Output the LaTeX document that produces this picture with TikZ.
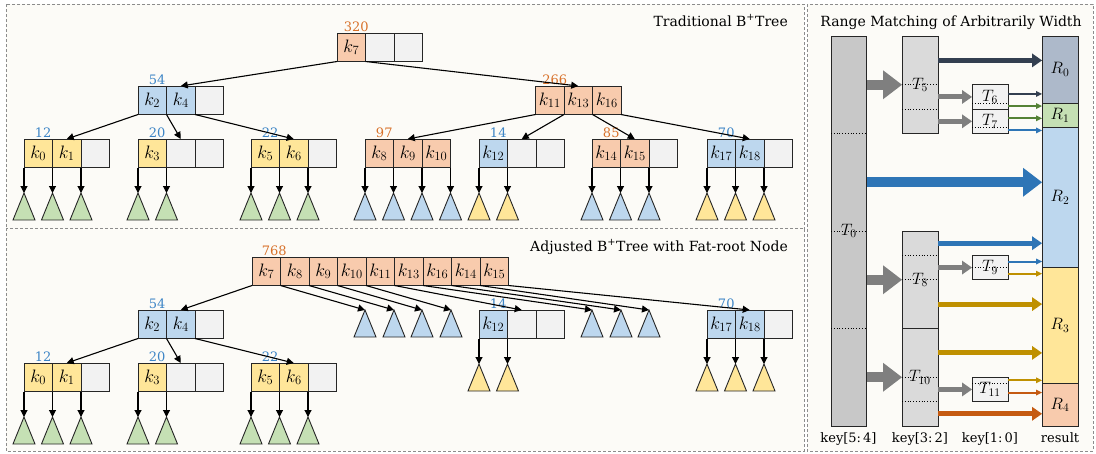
\RequirePackage{fix-cm}
\documentclass[tikz,border=0pt]{standalone}
\usepackage{fontspec}
\setmainfont{DejaVu Serif}
\usetikzlibrary{shapes.geometric, arrows.meta, positioning}

\definecolor{orgfill}{RGB}{248,203,173}
\definecolor{blufill}{RGB}{189,215,238}
\definecolor{yelfill}{RGB}{255,230,153}
\definecolor{gryfill}{RGB}{242,242,242}
\definecolor{grnfill}{RGB}{197,224,180}
\definecolor{orgtext}{RGB}{216,113,42}
\definecolor{blutext}{RGB}{61,133,198}
\definecolor{panelbg}{RGB}{252,251,247}
\definecolor{colzero}{RGB}{200,200,200}
\definecolor{colmid}{RGB}{218,218,218}
\definecolor{resslate}{RGB}{173,185,202}
\definecolor{slate}{RGB}{51,63,80}
\definecolor{bluarr}{RGB}{46,117,182}
\definecolor{goldarr}{RGB}{191,144,0}
\definecolor{grnarr}{RGB}{84,130,53}
\definecolor{orgarr}{RGB}{197,90,17}
\definecolor{grayarr}{RGB}{127,127,127}

\tikzstyle{arrow} = [line width=1.1pt, -{Triangle[length=7pt,width=7pt]}]
\tikzstyle{cell} = [rectangle, draw=black!85, line width=0.9pt, minimum width=28.5pt, minimum height=28.5pt, inner sep=0pt, outer sep=0pt, font=\fontsize{18}{20}\selectfont]
\tikzstyle{org} = [fill=orgfill]
\tikzstyle{blu} = [fill=blufill]
\tikzstyle{yel} = [fill=yelfill]
\tikzstyle{gry} = [fill=gryfill]
\tikzstyle{numo} = [text=orgtext, anchor=south, inner sep=1pt, font=\fontsize{13}{15}\selectfont]
\tikzstyle{numb} = [text=blutext, anchor=south, inner sep=1pt, font=\fontsize{13}{15}\selectfont]
\tikzstyle{tri} = [isosceles triangle, isosceles triangle stretches, shape border rotate=90, minimum width=22pt, minimum height=27pt, inner sep=0pt, outer sep=0pt, draw=black!85, line width=0.9pt, anchor=apex]
\tikzstyle{panel} = [draw=black!45, fill=panelbg, line width=0.8pt, dash pattern=on 3pt off 2pt]
\tikzstyle{paneltitle} = [inner sep=0pt, font=\fontsize{14}{17}\selectfont]
\tikzstyle{tbox} = [rectangle, draw=black!85, line width=0.9pt, minimum width=36pt, inner sep=0pt, outer sep=0pt, anchor=north west]
\tikzstyle{tlbl} = [inner sep=0pt, font=\fontsize{16.5}{18}\selectfont]
\tikzstyle{keylbl} = [anchor=base, inner sep=0pt, font=\fontsize{13}{15}\selectfont]
\tikzstyle{dotline} = [dotted, line width=0.8pt]
\tikzstyle{bigarr} = [line width=10pt, -{Triangle[length=19pt,width=29pt,line width=0pt]}]
\tikzstyle{midarr} = [line width=5pt, -{Triangle[length=10pt,width=14pt,line width=0pt]}]
\tikzstyle{thinarr} = [line width=2pt, -{Triangle[length=6pt,width=6pt,line width=0pt]}]

\begin{document}
\begin{tikzpicture}[x=1pt, y=-1pt]
\useasboundingbox (0,0) rectangle (1096,453);

% Panels
\draw [panel] (6,4) rectangle (804,228);
\draw [panel] (6,228) rectangle (804,451);
\draw [panel] (807,4) rectangle (1093,451);

\node (title1) [paneltitle, anchor=base east] at (788,26) {Traditional B\textsuperscript{+}Tree};
\node (title2) [paneltitle, anchor=base east] at (788,251) {Adjusted B\textsuperscript{+}Tree with Fat-root Node};
\node (title3) [paneltitle, anchor=base] at (951,26) {Range Matching of Arbitrarily Width};

% Traditional B+Tree
\node (T320a) [cell, org, anchor=north west] at (337,33) {$k_7$};
\node (T320b) [cell, gry, right=0pt of T320a] {};
\node (T320c) [cell, gry, right=0pt of T320b] {};
\node (T320n) [numo] at ([xshift=5pt]T320a.north) {320};

\node (T54a) [cell, blu, anchor=north west] at (138,86) {$k_2$};
\node (T54b) [cell, blu, right=0pt of T54a] {$k_4$};
\node (T54c) [cell, gry, right=0pt of T54b] {};
\node (T54n) [numb] at ([xshift=5pt]T54a.north) {54};

\node (T266a) [cell, org, anchor=north west] at (535.5,86) {$k_{11}$};
\node (T266b) [cell, org, right=0pt of T266a] {$k_{13}$};
\node (T266c) [cell, org, right=0pt of T266b] {$k_{16}$};
\node (T266n) [numo] at ([xshift=5pt]T266a.north) {266};

\node (T12a) [cell, yel, anchor=north west] at (24,139) {$k_0$};
\node (T12b) [cell, yel, right=0pt of T12a] {$k_1$};
\node (T12c) [cell, gry, right=0pt of T12b] {};
\node (T12n) [numb] at ([xshift=5pt]T12a.north) {12};

\node (T20a) [cell, yel, anchor=north west] at (138,139) {$k_3$};
\node (T20b) [cell, gry, right=0pt of T20a] {};
\node (T20c) [cell, gry, right=0pt of T20b] {};
\node (T20n) [numb] at ([xshift=5pt]T20a.north) {20};

\node (T22a) [cell, yel, anchor=north west] at (251,139) {$k_5$};
\node (T22b) [cell, yel, right=0pt of T22a] {$k_6$};
\node (T22c) [cell, gry, right=0pt of T22b] {};
\node (T22n) [numb] at ([xshift=5pt]T22a.north) {22};

\node (T97a) [cell, org, anchor=north west] at (365,139) {$k_8$};
\node (T97b) [cell, org, right=0pt of T97a] {$k_9$};
\node (T97c) [cell, org, right=0pt of T97b] {$k_{10}$};
\node (T97n) [numo] at ([xshift=5pt]T97a.north) {97};

\node (T14a) [cell, blu, anchor=north west] at (479,139) {$k_{12}$};
\node (T14b) [cell, gry, right=0pt of T14a] {};
\node (T14c) [cell, gry, right=0pt of T14b] {};
\node (T14n) [numb] at ([xshift=5pt]T14a.north) {14};

\node (T85a) [cell, org, anchor=north west] at (592,139) {$k_{14}$};
\node (T85b) [cell, org, right=0pt of T85a] {$k_{15}$};
\node (T85c) [cell, gry, right=0pt of T85b] {};
\node (T85n) [numo] at ([xshift=5pt]T85a.north) {85};

\node (T70a) [cell, blu, anchor=north west] at (707,139) {$k_{17}$};
\node (T70b) [cell, blu, right=0pt of T70a] {$k_{18}$};
\node (T70c) [cell, gry, right=0pt of T70b] {};
\node (T70n) [numb] at ([xshift=5pt]T70a.north) {70};

\draw [arrow] (T320a.south west) -- (T54b.north);
\draw [arrow] (T320a.south east) -- (T266b.north);
\draw [arrow] (T54a.south west) -- (T12b.north);
\draw [arrow] (T54a.south east) -- (T20b.north);
\draw [arrow] (T54b.south east) -- (T22b.north);
\draw [arrow] (T266a.south west) -- (T97b.north);
\draw [arrow] (T266a.south east) -- (T14b.north);
\draw [arrow] (T266b.south east) -- (T85b.north);
\draw [arrow] (T266c.south east) -- (T70b.north);

% leaves of the traditional tree
\foreach \p/\t/\c in {T12a.south west/ta1/grnfill, T12a.south east/ta2/grnfill, T12b.south east/ta3/grnfill,
  T20a.south west/ta4/grnfill, T20a.south east/ta5/grnfill,
  T22a.south west/ta6/grnfill, T22a.south east/ta7/grnfill, T22b.south east/ta8/grnfill,
  T97a.south west/ta9/blufill, T97a.south east/ta10/blufill, T97b.south east/ta11/blufill, T97c.south east/ta12/blufill,
  T14a.south west/ta13/yelfill, T14a.south east/ta14/yelfill,
  T85a.south west/ta15/blufill, T85a.south east/ta16/blufill, T85b.south east/ta17/blufill,
  T70a.south west/ta18/yelfill, T70a.south east/ta19/yelfill, T70b.south east/ta20/yelfill} {
  \node (\t) [tri, fill=\c] at (\p |- 0,193) {};
  \draw [arrow] (\p) -- (\t.apex);
}

% Adjusted B+Tree with fat root
\node (F1) [cell, org, anchor=north west] at (252,257) {$k_7$};
\node (F2) [cell, org, right=0pt of F1] {$k_8$};
\node (F3) [cell, org, right=0pt of F2] {$k_9$};
\node (F4) [cell, org, right=0pt of F3] {$k_{10}$};
\node (F5) [cell, org, right=0pt of F4] {$k_{11}$};
\node (F6) [cell, org, right=0pt of F5] {$k_{13}$};
\node (F7) [cell, org, right=0pt of F6] {$k_{16}$};
\node (F8) [cell, org, right=0pt of F7] {$k_{14}$};
\node (F9) [cell, org, right=0pt of F8] {$k_{15}$};
\node (F768n) [numo] at ([xshift=8pt]F1.north) {768};

\node (B54a) [cell, blu, anchor=north west] at (138,310) {$k_2$};
\node (B54b) [cell, blu, right=0pt of B54a] {$k_4$};
\node (B54c) [cell, gry, right=0pt of B54b] {};
\node (B54n) [numb] at ([xshift=5pt]B54a.north) {54};

\node (B14a) [cell, blu, anchor=north west] at (479,310) {$k_{12}$};
\node (B14b) [cell, gry, right=0pt of B14a] {};
\node (B14c) [cell, gry, right=0pt of B14b] {};
\node (B14n) [numb] at ([xshift=5pt]B14a.north) {14};

\node (B70a) [cell, blu, anchor=north west] at (707,310) {$k_{17}$};
\node (B70b) [cell, blu, right=0pt of B70a] {$k_{18}$};
\node (B70c) [cell, gry, right=0pt of B70b] {};
\node (B70n) [numb] at ([xshift=5pt]B70a.north) {70};

\node (B12a) [cell, yel, anchor=north west] at (24,363) {$k_0$};
\node (B12b) [cell, yel, right=0pt of B12a] {$k_1$};
\node (B12c) [cell, gry, right=0pt of B12b] {};
\node (B12n) [numb] at ([xshift=5pt]B12a.north) {12};

\node (B20a) [cell, yel, anchor=north west] at (138,363) {$k_3$};
\node (B20b) [cell, gry, right=0pt of B20a] {};
\node (B20c) [cell, gry, right=0pt of B20b] {};
\node (B20n) [numb] at ([xshift=5pt]B20a.north) {20};

\node (B22a) [cell, yel, anchor=north west] at (251,363) {$k_5$};
\node (B22b) [cell, yel, right=0pt of B22a] {$k_6$};
\node (B22c) [cell, gry, right=0pt of B22b] {};
\node (B22n) [numb] at ([xshift=5pt]B22a.north) {22};

% subtrees hanging from the fat root
\foreach \p/\t/\x in {F1.south east/tb1/365, F2.south east/tb2/394, F3.south east/tb3/422, F4.south east/tb4/451,
  F6.south east/tb5/592, F7.south east/tb6/621, F8.south east/tb7/649} {
  \node (\t) [tri, blu] at (\x,310) {};
  \draw [arrow] (\p) -- (\t.apex);
}
\draw [arrow] (F1.south west) -- (B54b.north);
\draw [arrow] (F5.south east) -- (B14b.north);
\draw [arrow] (F9.south east) -- (B70b.north);
\draw [arrow] (B54a.south west) -- (B12b.north);
\draw [arrow] (B54a.south east) -- (B20b.north);
\draw [arrow] (B54b.south east) -- (B22b.north);

\foreach \p/\t/\c/\y in {B14a.south west/tb8/yelfill/364, B14a.south east/tb9/yelfill/364,
  B70a.south west/tb10/yelfill/364, B70a.south east/tb11/yelfill/364, B70b.south east/tb12/yelfill/364,
  B12a.south west/tb13/grnfill/417, B12a.south east/tb14/grnfill/417, B12b.south east/tb15/grnfill/417,
  B20a.south west/tb16/grnfill/417, B20a.south east/tb17/grnfill/417,
  B22a.south west/tb18/grnfill/417, B22a.south east/tb19/grnfill/417, B22b.south east/tb20/grnfill/417} {
  \node (\t) [tri, fill=\c] at (\p |- 0,\y) {};
  \draw [arrow] (\p) -- (\t.apex);
}

% Range matching tables
\node (T0) [tbox, fill=colzero, minimum width=35.5pt, minimum height=390pt] at (831,36) {};
\node (T5) [tbox, fill=colmid, minimum height=97.5pt] at (902,36) {};
\node (T8) [tbox, fill=colmid, minimum height=97.5pt] at (902,231) {};
\node (T10) [tbox, fill=colmid, minimum height=97.5pt, below=0pt of T8] {};
\node (T6) [tbox, fill=gryfill, minimum height=24.375pt] at (972,84.75) {};
\node (T7) [tbox, fill=gryfill, minimum height=24.375pt, below=0pt of T6] {};
\node (T9) [tbox, fill=gryfill, minimum height=24.375pt] at (972,255.375) {};
\node (T11) [tbox, fill=gryfill, minimum height=24.375pt] at (972,377.25) {};

\node (R0) [tbox, fill=resslate, minimum height=67.03pt, font=\fontsize{16.5}{18}\selectfont] at (1042,36) {$R_0$};
\node (R1) [tbox, fill=grnfill, minimum height=24.37pt, font=\fontsize{16.5}{18}\selectfont, below=0pt of R0] {$R_1$};
\node (R2) [tbox, fill=blufill, minimum height=140.16pt, font=\fontsize{16.5}{18}\selectfont, below=0pt of R1] {$R_2$};
\node (R3) [tbox, fill=yelfill, minimum height=115.78pt, font=\fontsize{16.5}{18}\selectfont, below=0pt of R2] {$R_3$};
\node (R4) [tbox, fill=orgfill, minimum height=42.66pt, font=\fontsize{16.5}{18}\selectfont, below=0pt of R3] {$R_4$};

\foreach \t/\y in {T0/133.5, T0/231, T0/328.5, T5/84.75, T5/109.125, T8/255.375, T8/279.75,
  T10/377.25, T10/401.625, T6/103.03, T7/127.4, T9/267.56, T11/383.34}
  \draw [dotline] (\t.west |- 0,\y) -- (\t.east |- 0,\y);

\node (T0l) [tlbl] at (T0) {$T_0$};
\node (T5l) [tlbl] at (T5) {$T_5$};
\node (T6l) [tlbl] at (T6) {$T_6$};
\node (T7l) [tlbl] at (T7) {$T_7$};
\node (T8l) [tlbl] at (T8) {$T_8$};
\node (T9l) [tlbl] at (T9) {$T_9$};
\node (T10l) [tlbl] at (T10) {$T_{10}$};
\node (T11l) [tlbl] at (T11) {$T_{11}$};

% lookups
\foreach \a/\b/\y in {T0/T5/84.75, T0/T8/279.75, T0/T10/377.25}
  \draw [bigarr, draw=grayarr] (\a.east |- 0,\y) -- (\b.west |- 0,\y);
\foreach \a/\b/\y in {T5/T6/96.94, T5/T7/121.31, T8/T9/267.56, T10/T11/389.44}
  \draw [midarr, draw=grayarr] (\a.east |- 0,\y) -- (\b.west |- 0,\y);
\draw [bigarr, draw=bluarr] (T0.east |- 0,182.25) -- (R2.west |- 0,182.25);
\foreach \a/\b/\y/\c in {T5/R0/60.4/slate, T8/R2/243.19/bluarr, T8/R3/304.1/goldarr,
  T10/R3/352.9/goldarr, T10/R4/413.8/orgarr}
  \draw [midarr, draw=\c] (\a.east |- 0,\y) -- (\b.west |- 0,\y);
\foreach \a/\b/\y/\c in {T6/R0/93.9/slate, T6/R1/106.1/grnarr, T7/R1/118.3/grnarr, T7/R2/130.4/bluarr,
  T9/R2/261.5/bluarr, T9/R3/273.7/goldarr, T11/R3/380.3/goldarr, T11/R4/392.5/orgarr}
  \draw [thinarr, draw=\c] (\a.east |- 0,\y) -- (\b.west |- 0,\y);

\node (key54) [keylbl] at (848.5,442) {key[5:\,4]};
\node (key32) [keylbl] at (920,442) {key[3:\,2]};
\node (key10) [keylbl] at (990,442) {key[1:\,0]};
\node (keyres) [keylbl] at (1060,442) {result};

\end{tikzpicture}
\end{document}
